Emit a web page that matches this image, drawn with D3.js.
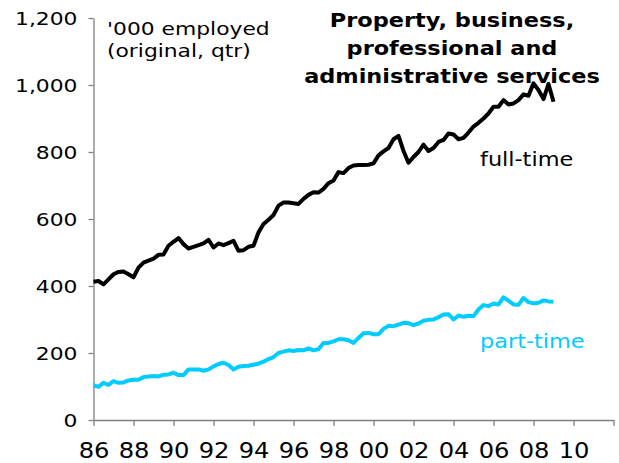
<!DOCTYPE html>
<html><head><meta charset="utf-8">
<script src="https://cdn.jsdelivr.net/npm/d3@7"></script>
<style>body{margin:0;background:#fff} svg{display:block}</style>
</head><body><svg id="c" width="619" height="463"></svg>
<script>
// Quarterly data, first point = 1986 Q1
const startYear = 1986;
const fullTime = [
  413, 415, 405, 420,
  435, 442, 443, 435,
  426, 455, 470, 476,
  482, 493, 494, 520,
  532, 543, 525, 512,
  517, 522, 527, 538,
  515, 527, 522, 528,
  535, 505, 507, 517,
  520, 560, 585, 598,
  612, 640, 649, 649,
  647, 645, 660, 672,
  680, 679, 690, 707,
  715, 740, 737, 752,
  760, 761, 761, 762,
  766, 790, 802, 812,
  838, 848, 803, 768,
  785, 800, 822, 803,
  812, 830, 836, 855,
  852, 838, 842, 858,
  876, 887, 900, 915,
  935, 935, 955, 942,
  945, 955, 972, 968,
  1005, 985, 958, 1003,
  950
];
const partTime = [
  104, 99, 111, 105,
  116, 111, 112, 118,
  120, 120, 128, 130,
  131, 130, 135, 136,
  141, 134, 134, 151,
  151, 151, 147, 151,
  160, 167, 171, 164,
  151, 159, 161, 162,
  165, 168, 174, 182,
  188, 200, 204, 208,
  206, 209, 208, 214,
  208, 211, 230, 230,
  235, 241, 241, 238,
  230, 245, 259, 260,
  256, 256, 272, 281,
  280, 285, 290, 289,
  283, 288, 296, 299,
  300, 307, 315, 316,
  300, 312, 308, 311,
  310, 330, 343, 340,
  348, 345, 366, 356,
  345, 344, 364, 352,
  348, 350, 357, 354,
  353
];
const yTicks = [0, 200, 400, 600, 800, 1000, 1200];
const xTicks = [1986, 1988, 1990, 1992, 1994, 1996, 1998, 2000, 2002, 2004, 2006, 2008, 2010, 2012];
const xTickLabels = ["86", "88", "90", "92", "94", "96", "98", "00", "02", "04", "06", "08", "10", ""];
const titleLines = ["Property, business,", "professional and", "administrative services"];
const unitLines = ["'000 employed", "(original, qtr)"];
const seriesNames = ["full-time", "part-time"];
const colors = { full: "#000000", part: "#00ccff" };

const FONT = "'DejaVu Sans', Verdana, sans-serif";
const SX = 1.18;

const svg = d3.select("#c");
const x = d3.scaleLinear().domain([1986, 2012]).range([93.5, 613.5]);
const y = d3.scaleLinear().domain([0, 1200]).range([420, 18]);

const toPts = arr => arr.map((v, i) => ({ t: startYear + i / 4, v }));

// axes
const yAxis = svg.append("g").attr("transform", `translate(${x(1986)},0)`)
  .call(d3.axisLeft(y).tickValues(yTicks).tickSize(5).tickSizeOuter(0)
    .tickFormat(d3.format(",")));
const xAxis = svg.append("g").attr("transform", `translate(0,${y(0)})`)
  .call(d3.axisBottom(x).tickValues(xTicks).tickSize(6).tickSizeOuter(0)
    .tickFormat((d, i) => xTickLabels[i]));

[yAxis, xAxis].forEach(g => {
  g.select(".domain").attr("stroke", "#808080").attr("stroke-width", 1.3);
  g.selectAll(".tick line").attr("stroke", "#808080").attr("stroke-width", 1.3);
});
yAxis.selectAll(".tick text")
  .attr("font-family", FONT).attr("font-size", 18.5).attr("fill", "#000")
  .attr("x", null).attr("dy", null)
  .attr("transform", `translate(-16,6.5) scale(${SX},1)`);
xAxis.selectAll(".tick text")
  .attr("font-family", FONT).attr("font-size", 20.5).attr("fill", "#000")
  .attr("y", null).attr("dy", null)
  .attr("transform", `translate(0,38) scale(${SX},1)`);

// lines
const line = d3.line().x(d => x(d.t)).y(d => y(d.v));
svg.append("path").datum(toPts(partTime)).attr("d", line)
  .attr("fill", "none").attr("stroke", colors.part).attr("stroke-width", 4)
  .attr("stroke-linejoin", "round");
svg.append("path").datum(toPts(fullTime)).attr("d", line)
  .attr("fill", "none").attr("stroke", colors.full).attr("stroke-width", 4)
  .attr("stroke-linejoin", "round");

function txt(str, px, py, opts) {
  return svg.append("text")
    .attr("transform", `translate(${px},${py}) scale(${SX},1)`)
    .attr("font-family", FONT)
    .attr("font-size", opts.size)
    .attr("font-weight", opts.weight || "normal")
    .attr("text-anchor", opts.anchor || "start")
    .attr("fill", opts.fill || "#000")
    .text(str);
}

// unit note
unitLines.forEach((s, i) => txt(s, 107, 35 + i * 21.5, { size: 18.5 }));
// title
titleLines.forEach((s, i) => txt(s, 452, 27 + i * 28, { size: 19, weight: "bold", anchor: "middle" }));
// series labels
txt(seriesNames[0], 480, 166, { size: 19 });
txt(seriesNames[1], 480, 348, { size: 19, fill: colors.part });
</script>
</body></html>
